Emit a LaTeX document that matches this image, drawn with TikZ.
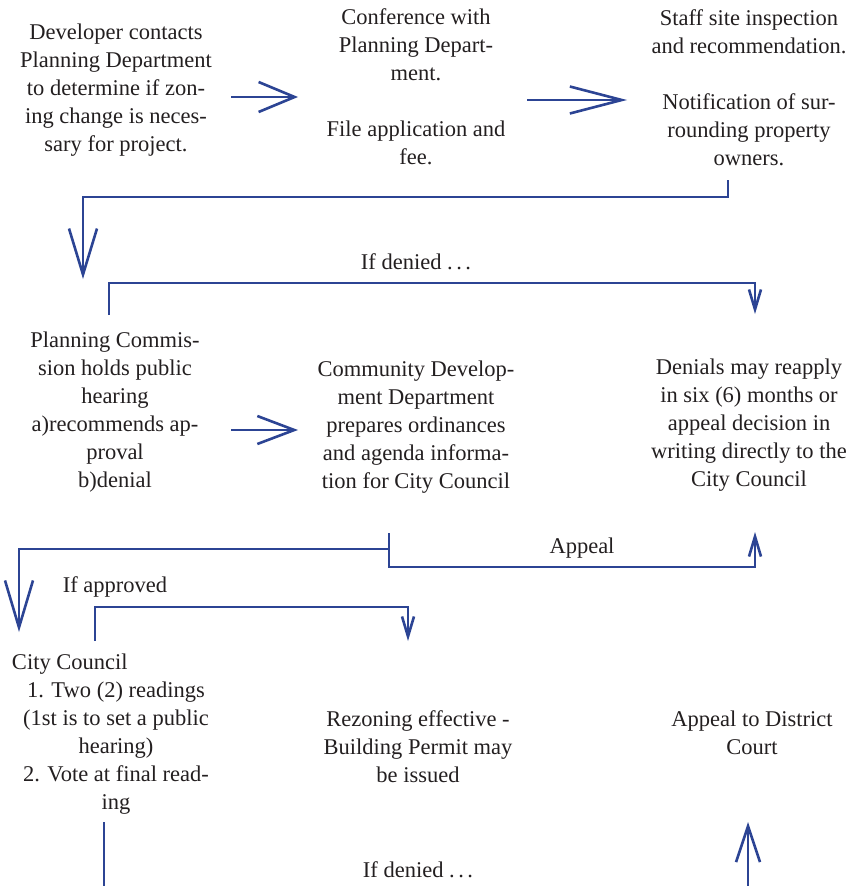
\documentclass[tikz,border=0pt]{standalone}
\usepackage{fontspec}
\setmainfont{Liberation Serif}
\usetikzlibrary{arrows.meta}
\definecolor{flowblue}{RGB}{44,68,148}
\definecolor{inkgray}{RGB}{35,31,32}
\newcommand{\spdots}{.\kern3.5pt.\kern3.5pt.}
\begin{document}
\begin{tikzpicture}[x=1pt,y=-1pt,
  txt/.style={align=center, inner sep=0pt, text=inkgray,
              font=\fontsize{22.5}{28}\selectfont},
  link/.style={draw=flowblue, line width=2.6pt},
  smalltip/.style={-{Straight Barb[length=20pt,width=12pt]}}]
\useasboundingbox (0,0) rectangle (858,886);

% ---- step boxes (text only) ----
\node[txt] (dev) at (116,89.4) {\strut Developer contacts\\ \strut Planning Department\\
  \strut to determine if zon-\\ \strut ing change is neces-\\ \strut sary for project.};
\node[txt] (conf) at (416,88.4) {\strut Conference with\\ \strut Planning Depart-\\
  \strut ment.\\ \strut\\ \strut File application and\\ \strut fee.};
\node[txt] (staff) at (749,89.4) {\strut Staff site inspection\\ \strut and recommendation.\\
  \strut\\ \strut Notification of sur-\\ \strut rounding property\\ \strut owners.};
\node[txt] (pc) at (115,411.4) {\strut Planning Commis-\\ \strut sion holds public\\
  \strut hearing\\ \strut a)recommends ap-\\ \strut proval\\ \strut b)denial};
\node[txt] (cdd) at (416,426.4) {\strut Community Develop-\\ \strut ment Department\\
  \strut prepares ordinances\\ \strut and agenda informa-\\ \strut tion for City Council};
\node[txt] (deny) at (749,424.4) {\strut Denials may reapply\\ \strut in six (6) months or\\
  \strut appeal decision in\\ \strut writing directly to the\\ \strut City Council};
\node[txt] (cc) at (116,733.4) {\strut\makebox[208pt][l]{City Council}\\ \strut 1. Two (2) readings\\
  \strut (1st is to set a public\\ \strut hearing)\\ \strut 2. Vote at final read-\\ \strut ing};
\node[txt] (rez) at (418,748.4) {\strut Rezoning effective -\\ \strut Building Permit may\\
  \strut be issued};
\node[txt] (court) at (752,734.4) {\strut Appeal to District\\ \strut Court};

% ---- connector labels ----
\node[txt] (lbldeny1) at (416,263.4) {\strut If denied \spdots};
\node[txt] (lblappeal) at (582,547.4) {\strut Appeal};
\node[txt] (lblappr) at (115,586.4) {\strut If approved};
\node[txt] (lbldeny2) at (418,871.4) {\strut If denied \spdots};

% ---- connector end points ----
\coordinate (devout) at (231,97);   \coordinate (confin) at (298,97);
\coordinate (confout) at (527,100); \coordinate (staffin) at (627,100);
\coordinate (staffout) at (728,180); \coordinate (bendA) at (728,197);
\coordinate (bendB) at (83,197);    \coordinate (pcin) at (83,279);
\coordinate (pcdeny) at (109,315);  \coordinate (bendC) at (109,283);
\coordinate (bendD) at (755,283);   \coordinate (denyin) at (755,314);
\coordinate (pcout) at (231,430);   \coordinate (cddin) at (298,430);
\coordinate (cddtop) at (389,533);  \coordinate (cddbot) at (389,567);
\coordinate (junct) at (389,549);   \coordinate (bendE) at (19,549);
\coordinate (ccin) at (19,632);
\coordinate (bendF) at (755,567);   \coordinate (denyup) at (755,532);
\coordinate (ccappr) at (95,641);   \coordinate (bendG) at (95,607);
\coordinate (bendH) at (408,607);   \coordinate (rezin) at (408,641);
\coordinate (ccout) at (104,822);   \coordinate (ccedge) at (104,886);
\coordinate (courtedge) at (748,886); \coordinate (courtin) at (748,822);

% ---- connectors ----
\draw[link, -{Straight Barb[length=36pt,width=30pt]}] (devout) -- (confin);
\draw[link, -{Straight Barb[length=52pt,width=27pt]}] (confout) -- (staffin);
\draw[link, -{Straight Barb[length=46pt,width=28pt]}] (staffout) -- (bendA) -- (bendB) -- (pcin);
\draw[link, smalltip] (pcdeny) -- (bendC) -- (bendD) -- (denyin);
\draw[link, -{Straight Barb[length=37pt,width=28pt]}] (pcout) -- (cddin);
\draw[link, smalltip] (cddtop) -- (cddbot) -- (bendF) -- (denyup);
\draw[link, -{Straight Barb[length=47pt,width=28pt]}] (junct) -- (bendE) -- (ccin);
\draw[link, smalltip] (ccappr) -- (bendG) -- (bendH) -- (rezin);
\draw[link] (ccout) -- (ccedge);
\draw[link, -{Straight Barb[length=36pt,width=24pt]}] (courtedge) -- (courtin);
\end{tikzpicture}
\end{document}
